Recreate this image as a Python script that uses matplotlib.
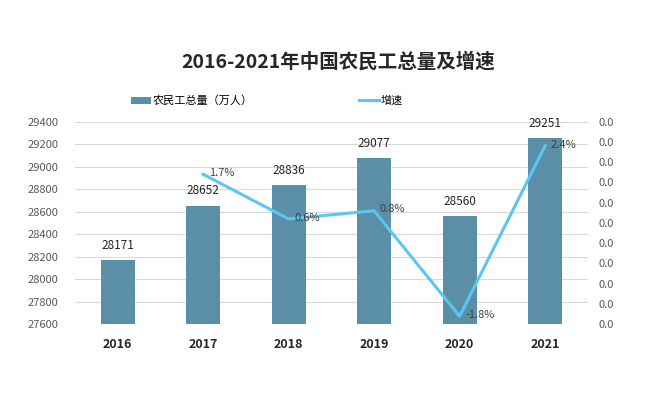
import matplotlib
matplotlib.use('Agg')
import matplotlib.pyplot as plt
from matplotlib.ticker import FixedLocator, FixedFormatter
from matplotlib.lines import Line2D
from matplotlib.patches import Patch

plt.rcParams['font.family'] = ['Noto Sans CJK SC', 'DejaVu Sans']

# 数据
years = ['2016', '2017', '2018', '2019', '2020', '2021']
workers = [28171, 28652, 28836, 29077, 28560, 29251]   # 农民工总量（万人）
growth_years = ['2017', '2018', '2019', '2020', '2021']
growth = [1.7, 0.6, 0.8, -1.8, 2.4]                    # 增速 %
left_ticks = [27600, 27800, 28000, 28200, 28400, 28600, 28800, 29000, 29200, 29400]
right_ticks = [-2.0, -1.5, -1.0, -0.5, 0.0, 0.5, 1.0, 1.5, 2.0, 2.5, 3.0]

bar_color = '#5a8fa7'
line_color = '#5cc6f2'

fig = plt.figure(figsize=(6.51, 3.96), dpi=100)
ax = fig.add_axes([0.115, 0.181, 0.788, 0.512])

x = list(range(len(years)))
bars = ax.bar(x, workers, width=0.4, color=bar_color, zorder=2)
ax.set_ylim(27600, 29400)
ax.set_xlim(-0.5, len(years) - 0.5)
ax.yaxis.set_major_locator(FixedLocator(left_ticks))
ax.grid(axis='y', color='#d9d9d9', linewidth=0.8, zorder=0)
ax.set_axisbelow(True)
for s in ax.spines.values():
    s.set_visible(False)
ax.tick_params(axis='y', length=0, labelsize=8, labelcolor='#595959', pad=12)
ax.tick_params(axis='x', length=0, labelsize=9, pad=10)
ax.set_xticks(x)
ax.set_xticklabels(years, fontweight='bold', color='#262626')

for xi, v in zip(x, workers):
    ax.annotate(str(v), (xi, v), xytext=(0, 6), textcoords='offset points',
                ha='center', va='bottom', fontsize=8.5, color='#262626')

ax2 = ax.twinx()
gx = [years.index(y) for y in growth_years]
ax2.plot(gx, growth, color=line_color, linewidth=2.2, zorder=3)
ax2.set_ylim(-2.0, 3.0)
ax2.yaxis.set_major_locator(FixedLocator(right_ticks))
ax2.yaxis.set_major_formatter(FixedFormatter(['0.0'] * len(right_ticks)))
for s in ax2.spines.values():
    s.set_visible(False)
ax2.tick_params(axis='y', length=0, labelsize=8, labelcolor='#595959', pad=8)

for xi, v in zip(gx, growth):
    ax2.annotate(f'{v}%', (xi, v), xytext=(4, 1), textcoords='offset points',
                 ha='left', va='center', fontsize=8, color='#404040')

fig.text(0.52, 0.845, '2016-2021年中国农民工总量及增速', ha='center', va='center',
         fontsize=14, fontweight='bold', color='#262626')

handles = [Patch(facecolor=bar_color, label='农民工总量（万人）'),
           Line2D([0], [0], color=line_color, linewidth=2.2, label='增速')]
fig.legend(handles=handles, loc='center', bbox_to_anchor=(0.41, 0.745), ncol=2,
           frameon=False, fontsize=8, columnspacing=9.5, handlelength=1.8,
           handletextpad=0.2)

fig.savefig('out.png', dpi=100)
